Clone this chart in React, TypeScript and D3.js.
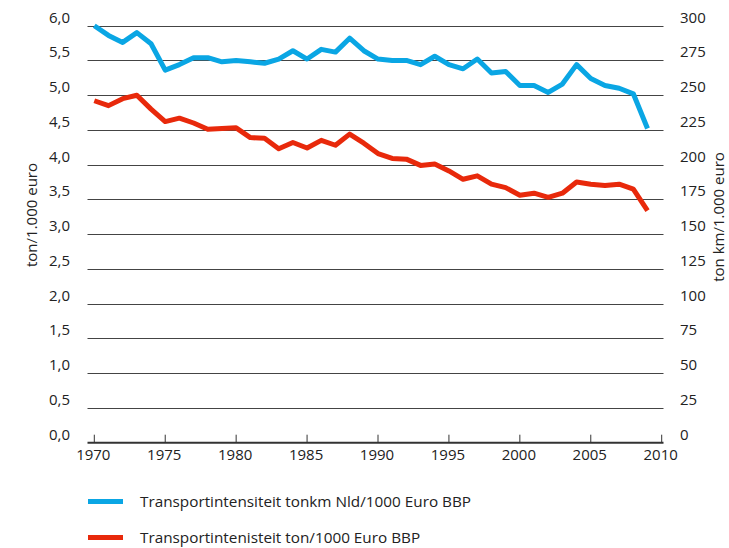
import { useEffect, useRef } from 'react';
import * as d3 from 'd3';

// years 1970 - 2009
const years = d3.range(1970, 2010);

// tonkm Nld / 1000 euro BBP (right axis)
const tonkm = [
  300, 293, 288, 295, 287, 268, 272, 277, 277, 274,
  275, 274, 273, 276, 282, 276, 283, 281, 291, 282,
  276, 275, 275, 272, 278, 272, 269, 276, 266, 267,
  257, 257, 252, 258, 272, 262, 257, 255, 251, 226,
];

// ton / 1000 euro BBP (left axis)
const ton = [
  4.92, 4.85, 4.95, 5.0, 4.8, 4.62, 4.67, 4.6, 4.51, 4.52,
  4.53, 4.39, 4.38, 4.23, 4.32, 4.24, 4.35, 4.28, 4.44, 4.31,
  4.16, 4.09, 4.08, 3.99, 4.01, 3.91, 3.79, 3.84, 3.72, 3.67,
  3.56, 3.59, 3.53, 3.59, 3.75, 3.72, 3.7, 3.72, 3.65, 3.34,
];

const leftTicks = d3.range(0, 6.01, 0.5);
const rightTicks = d3.range(0, 301, 25);
const xTicks = d3.range(1970, 2011, 5);

const legend = [
  { label: 'Transportintensiteit tonkm Nld/1000 Euro BBP', color: '#0aa6e4' },
  { label: 'Transportintenisteit ton/1000 Euro BBP', color: '#e8290b' },
];

const W = 729;
const H = 548;
const FONT = '"Open Sans", sans-serif';

const App = () => {
  const svgRef = useRef<SVGSVGElement>(null);

  useEffect(() => {
    if (!svgRef.current) return;
    const svg = d3.select(svgRef.current);
    svg.selectAll('*').remove();

    const x = d3.scaleLinear().domain([1970, 2010]).range([94.3, 661.7]);
    const yL = d3.scaleLinear().domain([0, 6]).range([442.7, 25.7]);
    const yR = d3.scaleLinear().domain([0, 300]).range([442.7, 25.7]);
    const gridX0 = 87.5;
    const gridX1 = 663.5;
    const fmt = (v: number) => d3.format('.1f')(v).replace('.', ',');

    // gridlines
    svg.append('g')
      .selectAll('line')
      .data(leftTicks.filter(v => v > 0))
      .join('line')
      .attr('x1', gridX0)
      .attr('x2', gridX1)
      .attr('y1', d => Math.round(yL(d)) + 0.5)
      .attr('y2', d => Math.round(yL(d)) + 0.5)
      .attr('stroke', '#444')
      .attr('stroke-width', 1);

    // baseline + ticks
    svg.append('line')
      .attr('x1', gridX0).attr('x2', gridX1)
      .attr('y1', yL(0)).attr('y2', yL(0))
      .attr('stroke', '#333').attr('stroke-width', 2);

    svg.append('g')
      .selectAll('line')
      .data(xTicks)
      .join('line')
      .attr('x1', d => x(d)).attr('x2', d => x(d))
      .attr('y1', yL(0)).attr('y2', yL(0) - 8)
      .attr('stroke', '#333').attr('stroke-width', 1);

    const text = svg.append('g')
      .attr('font-family', FONT)
      .attr('font-size', 15)
      .attr('fill', '#222');

    // left labels
    text.append('g')
      .selectAll('text')
      .data(leftTicks)
      .join('text')
      .attr('x', 70)
      .attr('y', d => yL(d) - 3)
      .attr('text-anchor', 'end')
      .text(d => fmt(d));

    // right labels
    text.append('g')
      .selectAll('text')
      .data(rightTicks)
      .join('text')
      .attr('x', 680)
      .attr('y', d => yR(d) - 3)
      .text(d => String(d));

    // x labels
    text.append('g')
      .selectAll('text')
      .data(xTicks)
      .join('text')
      .attr('x', d => x(d) - 1)
      .attr('y', 460)
      .attr('text-anchor', 'middle')
      .text(d => String(d));

    // axis titles
    text.append('text')
      .attr('transform', 'translate(37,215) rotate(-90)')
      .attr('text-anchor', 'middle')
      .text('ton/1.000 euro');

    text.append('text')
      .attr('transform', 'translate(724,217) rotate(-90)')
      .attr('text-anchor', 'middle')
      .text('ton km/1.000 euro');

    // series
    const lineR = d3.line<number>()
      .x((_, i) => x(years[i]))
      .y(d => yR(d));
    const lineL = d3.line<number>()
      .x((_, i) => x(years[i]))
      .y(d => yL(d));

    svg.append('path')
      .datum(tonkm)
      .attr('d', lineR)
      .attr('fill', 'none')
      .attr('stroke', legend[0].color)
      .attr('stroke-width', 5)
      .attr('stroke-linejoin', 'round');

    svg.append('path')
      .datum(ton)
      .attr('d', lineL)
      .attr('fill', 'none')
      .attr('stroke', legend[1].color)
      .attr('stroke-width', 5)
      .attr('stroke-linejoin', 'round');

    // legend
    const lg = svg.append('g')
      .selectAll('g')
      .data(legend)
      .join('g')
      .attr('transform', (_, i) => `translate(88,${501.5 + i * 36})`);

    lg.append('line')
      .attr('x1', 0).attr('x2', 35)
      .attr('stroke', d => d.color)
      .attr('stroke-width', 5);

    lg.append('text')
      .attr('x', 52)
      .attr('dy', '0.35em')
      .attr('font-family', FONT)
      .attr('font-size', 15.3)
      .attr('fill', '#222')
      .text(d => d.label);
  }, []);

  return (
    <svg
      ref={svgRef}
      width={W}
      height={H}
      style={{ position: 'absolute', left: 0, top: 0, background: '#fff' }}
    />
  );
};

export default App;
